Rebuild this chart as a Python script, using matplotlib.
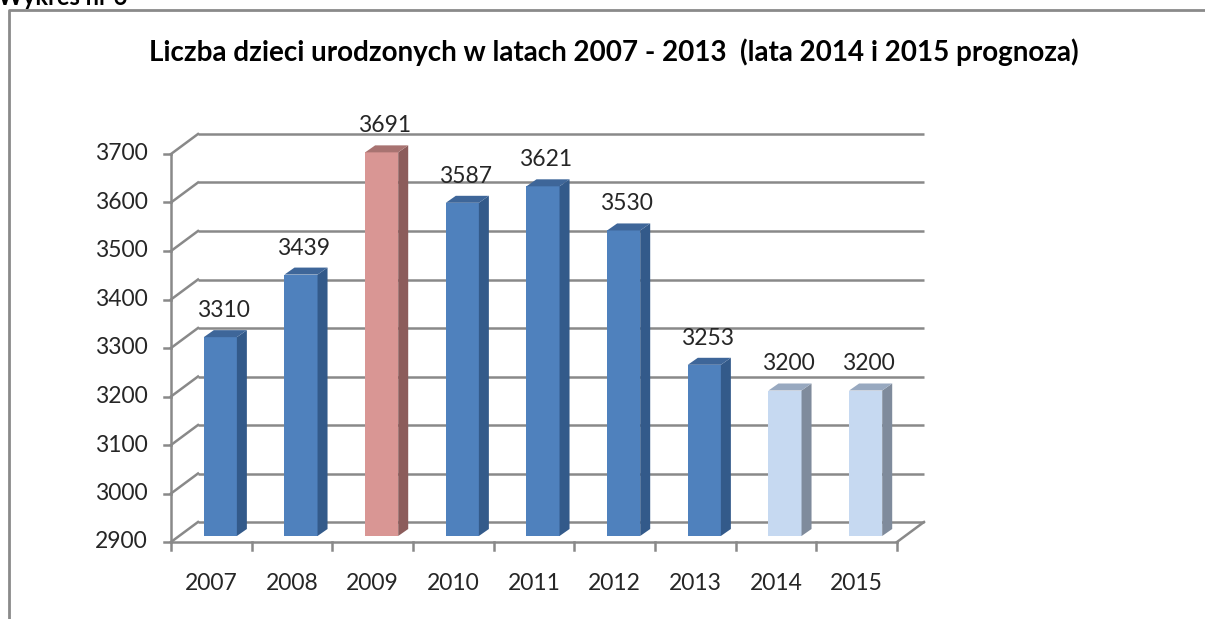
import numpy as np
import matplotlib
matplotlib.use('Agg')
import matplotlib.pyplot as plt
from matplotlib.patches import Polygon
from matplotlib.lines import Line2D
from matplotlib.transforms import offset_copy, IdentityTransform

years = ['2007', '2008', '2009', '2010', '2011', '2012', '2013', '2014', '2015']
births = [3310, 3439, 3691, 3587, 3621, 3530, 3253, 3200, 3200]
# which palette each bar uses: actual, maximum, forecast
kinds = ['real', 'real', 'max', 'real', 'real', 'real', 'real', 'prog', 'prog']
yticks = [2900, 3000, 3100, 3200, 3300, 3400, 3500, 3600, 3700]
title = 'Liczba dzieci urodzonych w latach 2007 - 2013  (lata 2014 i 2015 prognoza)'
header = 'Wykres nr 6'

# front, side, top colours
palette = {
    'real': ('#4f81bd', '#335a8a', '#3e6699'),
    'max':  ('#d99694', '#8c5c5b', '#a87371'),
    'prog': ('#c6d9f1', '#7f8b9c', '#98a9c0'),
}

plt.rcParams['font.family'] = ['Lato', 'DejaVu Sans']
W, H = 1205, 619
fig = plt.figure(figsize=(W / 100, H / 100), dpi=100)
ax = fig.add_axes([171 / W, (H - 542) / H, 726 / W, 388 / H])
ax.set_xlim(-0.5, len(years) - 0.5)
ax.set_ylim(yticks[0], yticks[-1])
ax.axis('off')

grid_c = '#898989'
txt_c = '#262626'
depth = (27, 20)        # wall depth in pixels
bar_off = (9, 6)        # front face of bars, pixels
side = (10, 7)          # bar depth, pixels
bw = 0.41

back = offset_copy(ax.transData, fig, x=depth[0], y=depth[1], units='dots')
front_bar = offset_copy(ax.transData, fig, x=bar_off[0], y=bar_off[1], units='dots')
disp = IdentityTransform()

x0, x1 = -0.5, len(years) - 0.5

# back wall gridlines
ax.hlines(yticks, x0, x1, transform=back, color=grid_c, lw=1.8, clip_on=False)


def depth_line(x, y, **kw):
    px, py = ax.transData.transform((x, y))
    ax.add_line(Line2D([px, px + depth[0]], [py, py + depth[1]],
                       transform=disp, clip_on=False, **kw))


# side wall diagonals and left axis
for v in yticks:
    depth_line(x0, v, color=grid_c, lw=1.8)
depth_line(x1, yticks[0], color=grid_c, lw=1.8)
ax.plot([x0, x0], [yticks[0], yticks[-1]], color=grid_c, lw=1.8, clip_on=False)
ax.plot([x0, x1], [yticks[0], yticks[0]], color=grid_c, lw=1.8, clip_on=False)

# tick marks
for v in yticks:
    px, py = ax.transData.transform((x0, v))
    ax.add_line(Line2D([px - 7, px], [py, py], transform=disp, color=grid_c,
                       lw=1.8, clip_on=False))
    ax.text(px - 23, py, str(v), transform=disp, ha='right', va='center',
            fontsize=16.5, color=txt_c)
for b in np.arange(len(years) + 1) - 0.5:
    px, py = ax.transData.transform((b, yticks[0]))
    ax.add_line(Line2D([px, px], [py, py - 8], transform=disp, color=grid_c,
                       lw=1.8, clip_on=False))
for i, yr in enumerate(years):
    px, py = ax.transData.transform((i, yticks[0]))
    ax.text(px, py - 42, yr, transform=disp, ha='center', va='center',
            fontsize=16.5, color=txt_c)

# bars
xs = np.arange(len(years))
fronts = [palette[k][0] for k in kinds]
ax.bar(xs, np.array(births) - yticks[0], bottom=yticks[0], width=bw,
       color=fronts, transform=front_bar, zorder=3, clip_on=False)
for i, v in enumerate(births):
    fc, sc, tc = palette[kinds[i]]
    (lx, by), (rx, ty) = front_bar.transform([(i - bw / 2, yticks[0]), (i + bw / 2, v)])
    sidep = [(rx, by), (rx + side[0], by + side[1]), (rx + side[0], ty + side[1]), (rx, ty)]
    topp = [(lx, ty), (rx, ty), (rx + side[0], ty + side[1]), (lx + side[0], ty + side[1])]
    ax.add_patch(Polygon(sidep, closed=True, fc=sc, ec='none', transform=disp,
                         zorder=3, clip_on=False))
    ax.add_patch(Polygon(topp, closed=True, fc=tc, ec='none', transform=disp,
                         zorder=3, clip_on=False))
    ax.text((lx + rx) / 2 + 3, ty + side[1] + 9, str(v), transform=disp,
            ha='center', va='bottom', fontsize=16.5, color=txt_c, zorder=4)

fig.text(0.509, 1 - 52 / H, title, ha='center', va='center', fontsize=20,
         fontweight='bold', color='black')
fig.text(-0.002, 1 - 5 / H, header, ha='left', va='baseline', fontsize=17,
         fontweight='bold', color='black')

# frame around the chart
fig.add_artist(Line2D([9 / W, 9 / W, 1], [0, 1 - 10 / H, 1 - 10 / H],
                      transform=fig.transFigure, color='#8a8a8a', lw=2))

fig.savefig('out.png', dpi=100, facecolor='white')
